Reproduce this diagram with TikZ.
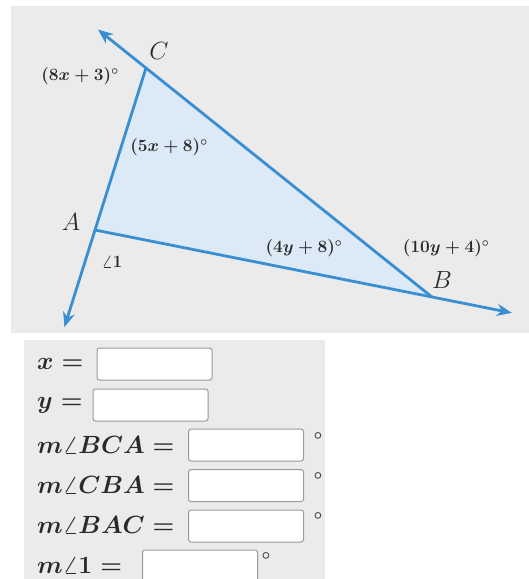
\documentclass[tikz,border=0pt]{standalone}
\usetikzlibrary{arrows.meta,calc}
\definecolor{bg}{HTML}{EBEBEB}
\definecolor{ln}{HTML}{3A8ED2}
\definecolor{fl}{HTML}{DCE9F6}
\definecolor{tx}{HTML}{2A2A2A}
\definecolor{bx}{HTML}{9A9A9A}
\tikzset{
  ray/.style={draw=ln, line width=2.8pt, -{Stealth[length=15pt,width=12pt]}},
  anglab/.style={text=tx, inner sep=0pt, font=\fontsize{18}{21}\selectfont\boldmath},
  vlab/.style={text=tx, inner sep=0pt, font=\fontsize{25}{29}\selectfont},
  qlab/.style={text=tx, inner sep=0pt, anchor=west, font=\fontsize{24}{28}\selectfont\boldmath},
  ansbox/.style={draw=bx, fill=white, line width=1pt, rounded corners=2.5pt, minimum width=115pt, minimum height=32pt, inner sep=0pt},
  degmark/.style={text=tx, inner sep=0pt, font=\fontsize{15}{17}\selectfont\boldmath}
}
\begin{document}
\begin{tikzpicture}[x=1pt,y=-1pt]
\useasboundingbox (0,0) rectangle (529,579);
\clip (0,0) rectangle (529,579);
\fill[white] (0,0) rectangle (529,579);
\fill[bg] (11,6) rectangle (529,333);
\fill[bg] (24,340) rectangle (325,579);
% triangle
\coordinate (A) at (95,230);
\coordinate (B) at (432,297);
\coordinate (C) at (146,68);
\fill[fl] (A) -- (B) -- (C) -- cycle;
\draw[ray] (B) -- ($(B)!1.168!(C)$);
\draw[ray] (C) -- ($(C)!1.6!(A)$);
\draw[ray] (A) -- ($(A)!1.237!(B)$);
% labels
\node[vlab] (lC) at (159,51) {$C$};
\node[vlab] (lA) at (71,222) {$A$};
\node[vlab] (lB) at (442,280) {$B$};
\node[anglab] (a1) at (80,76) {$(8x+3)^\circ$};
\node[anglab] (a2) at (169,147) {$(5x+8)^\circ$};
\node[anglab] (a3) at (304,248) {$(4y+8)^\circ$};
\node[anglab] (a4) at (446,248) {$(10y+4)^\circ$};
\node[anglab] (a5) at (112,262) {$\angle 1$};
% answer panel
\node[qlab] (qx) at (37,364) {$x=$};
\node[qlab] (qy) at (37,405) {$y=$};
\node[qlab] (q1) at (37,445) {$m\angle BCA=$};
\node[qlab] (q2) at (37,485) {$m\angle CBA=$};
\node[qlab] (q3) at (37,525) {$m\angle BAC=$};
\node[qlab] (q4) at (37,565) {$m\angle 1=$};
\node[ansbox] (bxx) at (154.5,364) {};
\node[ansbox] (bxy) at (150.5,405) {};
\node[ansbox] (b1) at (246,445) {};
\node[ansbox] (b2) at (246,485.5) {};
\node[ansbox] (b3) at (246,526) {};
\node[ansbox] (b4) at (200,566) {};
\node[degmark] (d1) at (318,436) {$\circ$};
\node[degmark] (d2) at (318,476) {$\circ$};
\node[degmark] (d3) at (318,516) {$\circ$};
\node[degmark] (d4) at (266,556) {$\circ$};
\end{tikzpicture}
\end{document}
